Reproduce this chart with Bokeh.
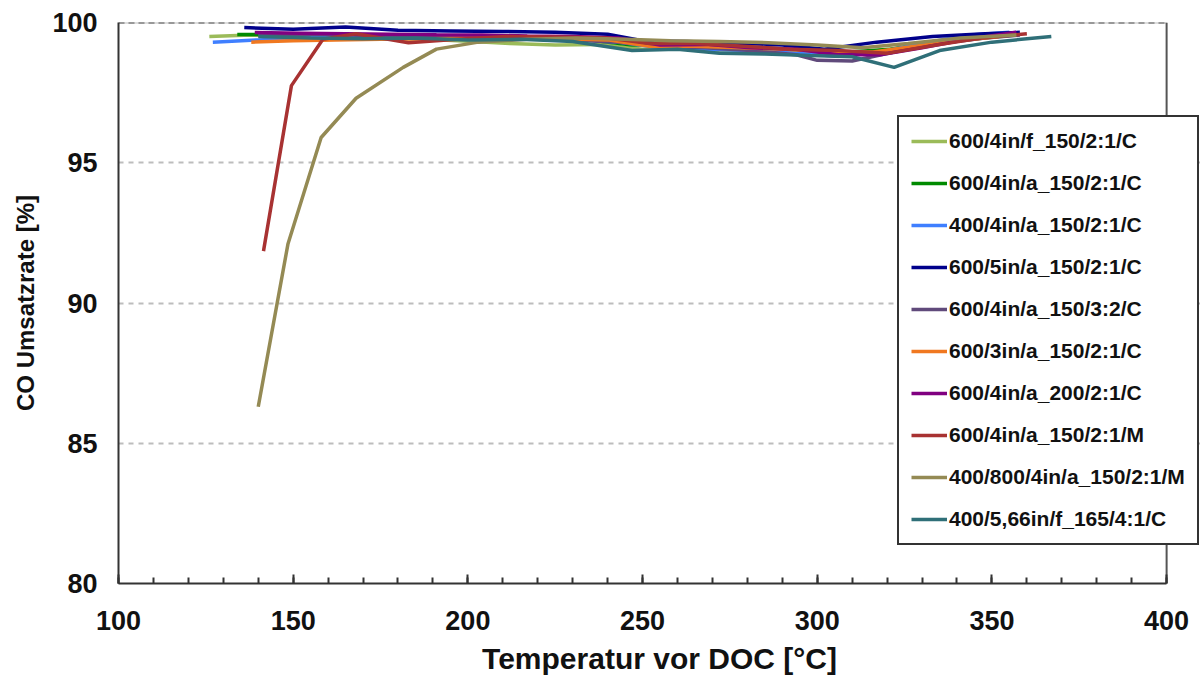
from bokeh.plotting import figure
from bokeh.models import FixedTicker, SingleIntervalTicker, Legend, LegendItem, Range1d
from bokeh.embed import file_html
from bokeh.resources import INLINE

# ---- data ----
names = ["600/4in/f_150/2:1/C", "600/4in/a_150/2:1/C", "400/4in/a_150/2:1/C",
         "600/5in/a_150/2:1/C", "600/4in/a_150/3:2/C", "600/3in/a_150/2:1/C",
         "600/4in/a_200/2:1/C", "600/4in/a_150/2:1/M", "400/800/4in/a_150/2:1/M",
         "400/5,66in/f_165/4:1/C"]

x1 = [126, 138, 150, 162, 175, 188, 200, 212, 225, 238, 250, 262, 275, 288, 300, 312, 324, 336, 348, 357]
y1 = [99.50, 99.55, 99.50, 99.48, 99.45, 99.40, 99.33, 99.25, 99.20, 99.22, 99.05, 99.05, 99.00, 98.95, 98.85, 98.90, 99.10, 99.30, 99.45, 99.55]

x2 = [134, 145, 157, 170, 183, 196, 209, 222, 235, 247, 259, 272, 285, 297, 309, 321, 333, 345, 356]
y2 = [99.57, 99.58, 99.55, 99.52, 99.50, 99.45, 99.42, 99.40, 99.38, 99.20, 99.18, 99.15, 99.10, 99.00, 98.95, 99.05, 99.30, 99.45, 99.55]

x3 = [127, 140, 152, 165, 178, 191, 204, 217, 230, 243, 255, 268, 281, 294, 306, 318, 330, 343, 355]
y3 = [99.30, 99.38, 99.45, 99.50, 99.52, 99.50, 99.48, 99.45, 99.40, 99.30, 99.10, 99.05, 99.00, 98.90, 98.80, 98.95, 99.25, 99.55, 99.65]

x4 = [136, 150, 165, 180, 195, 210, 225, 240, 250, 262, 275, 290, 302, 317, 333, 348, 358]
y4 = [99.82, 99.76, 99.84, 99.72, 99.70, 99.68, 99.65, 99.58, 99.35, 99.32, 99.28, 99.20, 99.05, 99.30, 99.50, 99.60, 99.65]

x5 = [140, 152, 165, 178, 191, 204, 217, 230, 243, 255, 268, 281, 294, 300, 310, 322, 335, 348, 358]
y5 = [99.55, 99.58, 99.56, 99.50, 99.48, 99.45, 99.42, 99.38, 99.30, 99.15, 99.10, 99.00, 98.85, 98.65, 98.63, 98.95, 99.25, 99.45, 99.55]

x6 = [138, 150, 162, 175, 188, 201, 214, 227, 240, 252, 265, 278, 291, 304, 316, 328, 340, 352]
y6 = [99.30, 99.35, 99.38, 99.40, 99.42, 99.45, 99.45, 99.42, 99.38, 99.15, 99.15, 99.10, 99.05, 98.95, 98.95, 99.15, 99.35, 99.50]

x7 = [139, 152, 165, 178, 191, 204, 217, 230, 243, 255, 268, 281, 294, 306, 318, 330, 343, 357]
y7 = [99.64, 99.62, 99.60, 99.58, 99.56, 99.55, 99.52, 99.50, 99.45, 99.20, 99.22, 99.10, 99.05, 98.85, 98.85, 99.10, 99.40, 99.65]

x8 = [141.5, 149.5, 158.5, 168, 183, 197, 211, 225, 240, 252, 265, 279, 292, 306, 320, 334, 347, 360]
y8 = [91.85, 97.75, 99.40, 99.60, 99.28, 99.40, 99.50, 99.48, 99.45, 99.25, 99.25, 99.15, 99.05, 99.00, 98.90, 99.20, 99.45, 99.60]

x9 = [140, 148.5, 158, 168, 181.5, 191, 203, 217, 231, 245, 258, 272, 286, 300, 313, 326, 341, 357]
y9 = [86.30, 92.10, 95.90, 97.30, 98.40, 99.05, 99.30, 99.40, 99.45, 99.40, 99.35, 99.32, 99.28, 99.20, 99.10, 99.25, 99.45, 99.55]

x10 = [140, 155, 170, 185, 200, 215, 230, 247, 260, 272, 285, 298, 310, 322, 335, 350, 367]
y10 = [99.50, 99.45, 99.42, 99.45, 99.38, 99.40, 99.32, 99.00, 99.05, 98.90, 98.88, 98.82, 98.78, 98.40, 99.00, 99.30, 99.50]

xs = [x1, x2, x3, x4, x5, x6, x7, x8, x9, x10]
ys = [y1, y2, y3, y4, y5, y6, y7, y8, y9, y10]

colors = ["#9BBB59", "#008A00", "#3F7FFF", "#00008B", "#604A7B",
          "#F07820", "#800080", "#A83232", "#948A54", "#2F6F78"]

x_ticks = [100, 150, 200, 250, 300, 350, 400]
y_ticks = [80, 85, 90, 95, 100]

FONT = "Liberation Sans"
X_END = 409.7   # frame runs on to the right so the legend can overhang the plot box

p = figure(width=1200, height=677, output_backend="svg", toolbar_location=None,
           x_range=Range1d(x_ticks[0], X_END), y_range=Range1d(y_ticks[0], y_ticks[-1]),
           min_border_left=118, min_border_right=0, min_border_top=22, min_border_bottom=94,
           background_fill_color="white", border_fill_color="white")

p.outline_line_color = None

# grid
p.xgrid.grid_line_color = None
p.ygrid.grid_line_color = "#bdbdbd"
p.ygrid.grid_line_width = 2
p.ygrid.grid_line_dash = "5 5"
p.ygrid.ticker = FixedTicker(ticks=y_ticks[1:-1])
p.ygrid.bounds = (x_ticks[0], x_ticks[-1])

# axes
p.xaxis.ticker = SingleIntervalTicker(interval=50, num_minor_ticks=5)
p.xaxis.bounds = (x_ticks[0], x_ticks[-1])
p.yaxis.ticker = FixedTicker(ticks=y_ticks)

for ax in (p.xaxis[0], p.yaxis[0]):
    ax.axis_line_color = "#333333"
    ax.axis_line_width = 2
    ax.major_tick_line_color = "#333333"
    ax.major_tick_line_width = 2
    ax.minor_tick_line_color = "#333333"
    ax.minor_tick_line_width = 2
    ax.major_tick_out = 0
    ax.minor_tick_out = 0
    ax.major_label_text_font = FONT
    ax.major_label_text_font_style = "bold"
    ax.major_label_text_font_size = "27px"
    ax.major_label_text_color = "#111111"
    ax.axis_label_text_font = FONT
    ax.axis_label_text_font_style = "bold"
    ax.axis_label_text_color = "#111111"

p.xaxis.major_tick_in = 9
p.xaxis.minor_tick_in = 6
p.yaxis.major_tick_in = 0
p.yaxis.minor_tick_in = 0
p.xaxis.major_label_standoff = 27
p.yaxis.major_label_standoff = 21
p.xaxis.axis_label = "Temperatur vor DOC [°C]"
p.yaxis.axis_label = "CO Umsatzrate [%]"
p.xaxis.axis_label_text_font_size = "30px"
p.yaxis.axis_label_text_font_size = "24px"
p.xaxis.axis_label_standoff = 9
p.yaxis.axis_label_standoff = 10

# plot box: light base + dashed top at 100, solid right edge at 400
p.line([x_ticks[0], x_ticks[-1]], [y_ticks[-1], y_ticks[-1]], line_color="#bbbbbb", line_width=2)
p.line([x_ticks[0], x_ticks[-1]], [y_ticks[-1], y_ticks[-1]], line_color="#555555", line_width=2, line_dash="6 4")
p.line([x_ticks[-1], x_ticks[-1]], [y_ticks[0], y_ticks[-1]], line_color="#555555", line_width=2)

items = []
for name, x, y, c in zip(names, xs, ys, colors):
    r = p.line(x, y, line_color=c, line_width=3.5)
    items.append(LegendItem(label=name, renderers=[r]))

legend = Legend(items=items, location=(779, 38),
                label_text_font=FONT, label_text_font_style="bold",
                label_text_font_size="21px", label_text_color="#111111",
                glyph_width=36, glyph_height=20, label_height=20, label_standoff=2,
                spacing=18, padding=12, margin=0,
                border_line_color="#333333", border_line_width=2, border_line_alpha=1.0,
                background_fill_color="white", background_fill_alpha=1.0)
p.add_layout(legend, "center")

open("out.html", "w").write(file_html(p, INLINE))
